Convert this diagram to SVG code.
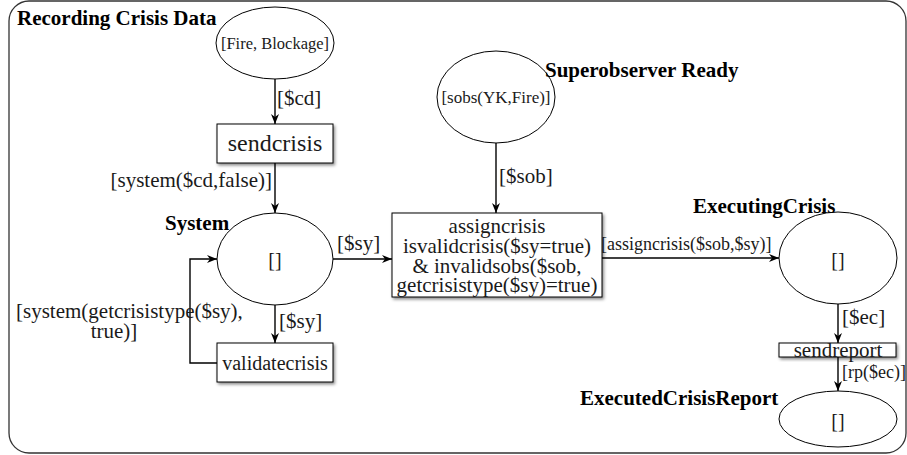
<svg xmlns="http://www.w3.org/2000/svg" width="907" height="455" viewBox="0 0 907 455">
<style>
text{font-family:"Liberation Serif","Times New Roman",serif;fill:#1a1a1a}
.t{font-size:20px}
.b{font-size:21px;font-weight:bold;fill:#000}
.l{font-size:21px}
.s{font-size:18px}
.place{fill:#fff;stroke:#000;stroke-width:1}
.trans{fill:#fff;stroke:#000;stroke-width:1;filter:url(#sh)}
.c{fill:none;stroke:#000;stroke-width:1.4;marker-end:url(#ah)}
</style>
<defs>
<marker id="ah" viewBox="0 0 10 10" refX="10" refY="5" markerWidth="10" markerHeight="10" markerUnits="userSpaceOnUse" orient="auto">
<path d="M0,1 L10,5 L0,9 L3,5 z" fill="#000"/>
</marker>
<filter id="sh" x="-10%" y="-20%" width="130%" height="150%">
<feDropShadow dx="1.5" dy="2" stdDeviation="1.5" flood-color="#000" flood-opacity="0.45"/>
</filter>
</defs>
<rect x="9" y="1" width="897" height="452" rx="20" ry="20" fill="#fff" stroke="#333" stroke-width="1.3"/>
<g id="recording">
<ellipse class="place" cx="275" cy="43" rx="59" ry="36"/>
<text x="275" y="49" class="s" text-anchor="middle" style="font-size:16.5px">[Fire, Blockage]</text>
<text x="17" y="25" class="b">Recording Crisis Data</text>
</g>
<g id="sendcrisis">
<rect class="trans" x="217" y="124" width="116" height="39"/>
<text x="275" y="151" text-anchor="middle" style="font-size:24px">sendcrisis</text>
</g>
<g id="system">
<ellipse class="place" cx="275" cy="259" rx="58" ry="46"/>
<text x="275" y="267" class="t" text-anchor="middle">[]</text>
<text x="165" y="230" class="b">System</text>
</g>
<g id="validatecrisis">
<rect class="trans" x="217" y="343" width="116" height="39"/>
<text x="275" y="370" class="t" text-anchor="middle">validatecrisis</text>
</g>
<g id="superobserver">
<ellipse class="place" cx="496" cy="97" rx="59" ry="46"/>
<text x="496" y="103" text-anchor="middle" style="font-size:17px">[sobs(YK,Fire)]</text>
<text x="545" y="77" class="b">Superobserver Ready</text>
</g>
<g id="assigncrisis">
<rect class="trans" x="392" y="213" width="210" height="84"/>
<text x="497" y="233" class="l" text-anchor="middle">assigncrisis</text>
<text x="497" y="253" class="l" text-anchor="middle">isvalidcrisis($sy=true)</text>
<text x="497" y="273" class="l" text-anchor="middle">&amp; invalidsobs($sob,</text>
<text x="497" y="292" class="l" text-anchor="middle">getcrisistype($sy)=true)</text>
</g>
<g id="executing">
<ellipse class="place" cx="838" cy="258" rx="59" ry="46"/>
<text x="838" y="267" class="t" text-anchor="middle">[]</text>
<text x="693" y="213" class="b">ExecutingCrisis</text>
</g>
<g id="sendreport">
<rect class="trans" x="779" y="343" width="117" height="14"/>
<text x="838" y="357" class="l" text-anchor="middle">sendreport</text>
</g>
<g id="executed">
<ellipse class="place" cx="838" cy="419" rx="59" ry="28"/>
<text x="838" y="428" class="t" text-anchor="middle">[]</text>
<text x="580" y="405" class="b">ExecutedCrisisReport</text>
</g>
<g id="connectors">
<path class="c" d="M275,79 V124"/>
<text x="277" y="105" class="l">[$cd]</text>
<path class="c" d="M275,163 V213"/>
<text x="272" y="187" class="l" text-anchor="end">[system($cd,false)]</text>
<path class="c" d="M275,305 V343"/>
<text x="279" y="328" class="l">[$sy]</text>
<path class="c" d="M217,363 H190 V259 H217"/>
<text x="16" y="318" class="l">[system(getcrisistype($sy),</text>
<text x="114" y="338" class="l" text-anchor="middle">true)]</text>
<path class="c" d="M333,259 H392"/>
<text x="337" y="250" class="l">[$sy]</text>
<path class="c" d="M496,143 V213"/>
<text x="499" y="183" class="l">[$sob]</text>
<path class="c" d="M602,258 H779"/>
<text x="601" y="250" class="s">[assigncrisis($sob,$sy)]</text>
<path class="c" d="M838,304 V343"/>
<text x="842" y="324" class="l">[$ec]</text>
<path class="c" d="M838,357 V391"/>
<text x="842" y="378" class="s">[rp($ec)]</text>
</g>
</svg>
